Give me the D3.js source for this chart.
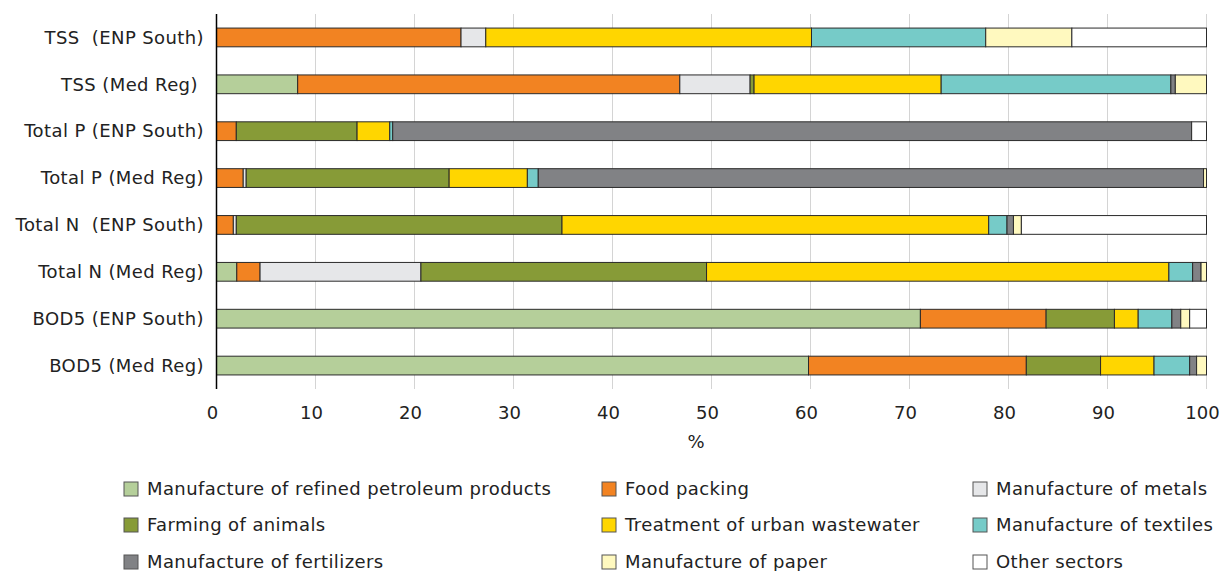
<!DOCTYPE html>
<html>
<head>
<meta charset="utf-8">
<script src="https://cdn.jsdelivr.net/npm/d3@7"></script>
<style>
  body { margin: 0; background: #fff; }
  svg { display: block; font-family: "DejaVu Sans", Verdana, sans-serif; }
</style>
</head>
<body>
<svg id="chart" width="1226" height="571"></svg>
<script>
// rows, top to bottom
const categories = [
  "TSS  (ENP South)", "TSS (Med Reg) ", "Total P (ENP South)", "Total P (Med Reg)",
  "Total N  (ENP South)", "Total N (Med Reg)", "BOD5 (ENP South)", "BOD5 (Med Reg)"
];

const sectors = [
  "Manufacture of refined petroleum products", "Food packing", "Manufacture of metals",
  "Farming of animals", "Treatment of urban wastewater", "Manufacture of textiles",
  "Manufacture of fertilizers", "Manufacture of paper", "Other sectors"
];

// % share per row
const petroleum   = [0, 8.2, 0, 0, 0, 2.05, 71.1, 59.8];
const foodPacking = [24.7, 38.6, 2.0, 2.7, 1.7, 2.35, 12.7, 22.0];
const metals      = [2.5, 7.1, 0, 0.3, 0.3, 16.25, 0, 0];
const farming     = [0, 0.4, 12.2, 20.5, 32.9, 28.85, 6.9, 7.5];
const urbanWw     = [32.9, 18.9, 3.3, 7.9, 43.1, 46.7, 2.4, 5.4];
const textiles    = [17.6, 23.2, 0.3, 1.1, 1.85, 2.4, 3.4, 3.6];
const fertilizers = [0, 0.45, 80.7, 67.2, 0.65, 0.85, 0.9, 0.7];
const paper       = [8.7, 3.15, 0, 0.3, 0.8, 0.55, 0.9, 1.0];
const other       = [13.6, 0, 1.5, 0, 18.7, 0, 1.7, 0];

const xTicks = [0, 10, 20, 30, 40, 50, 60, 70, 80, 90, 100];

const colors = ["#b5cf9a", "#f28322", "#e6e7e9", "#879b37", "#ffd600",
                "#76cbc8", "#818285", "#fff9bf", "#ffffff"];

const seriesValues = [petroleum, foodPacking, metals, farming, urbanWw,
                      textiles, fertilizers, paper, other];

const rows = categories.map((c, i) => {
  const r = { cat: c };
  sectors.forEach((s, j) => { r[s] = seriesValues[j][i]; });
  return r;
});

const svg = d3.select("#chart");
const margin = { top: 14, left: 216.5, right: 20 };
const plotW = 990, plotH = 375;
const fontSize = 18;
const spacing = "0.4px";

const x = d3.scaleLinear().domain([0, 100]).range([margin.left, margin.left + plotW]);
const y = d3.scaleBand().domain(categories).range([margin.top, margin.top + plotH]).paddingInner(0.6).paddingOuter(0.3);
const color = d3.scaleOrdinal().domain(sectors).range(colors);

// gridlines
svg.append("g")
  .selectAll("line")
  .data(xTicks.slice(1))
  .join("line")
  .attr("x1", d => x(d)).attr("x2", d => x(d))
  .attr("y1", margin.top).attr("y2", margin.top + plotH)
  .attr("stroke", "#d4d4d4").attr("stroke-width", 1);

// bars
const stacked = d3.stack().keys(sectors)(rows);

svg.append("g")
  .selectAll("g")
  .data(stacked)
  .join("g")
  .attr("fill", d => color(d.key))
  .selectAll("rect")
  .data(d => d.filter(p => p[1] - p[0] > 0))
  .join("rect")
  .attr("x", d => x(d[0]))
  .attr("y", d => y(d.data.cat))
  .attr("width", d => x(d[1]) - x(d[0]))
  .attr("height", y.bandwidth())
  .attr("stroke", "#2a2a2a")
  .attr("stroke-width", 1);

// y axis line
svg.append("line")
  .attr("x1", margin.left).attr("x2", margin.left)
  .attr("y1", margin.top).attr("y2", margin.top + plotH)
  .attr("stroke", "#000").attr("stroke-width", 1.5);

// category labels
svg.append("g")
  .selectAll("text")
  .data(categories)
  .join("text")
  .attr("x", 204)
  .attr("y", d => y(d) + y.bandwidth() / 2)
  .attr("dy", "0.35em")
  .attr("text-anchor", "end")
  .style("white-space", "pre")
  .style("letter-spacing", spacing)
  .attr("font-size", fontSize)
  .attr("fill", "#222")
  .text(d => d);

// x tick labels
svg.append("g")
  .selectAll("text")
  .data(xTicks)
  .join("text")
  .attr("x", d => x(d) - 4)
  .attr("y", 413)
  .attr("dy", "0.35em")
  .attr("text-anchor", "middle")
  .attr("font-size", fontSize)
  .attr("fill", "#222")
  .text(d => d);

svg.append("text")
  .attr("x", 696).attr("y", 442)
  .attr("dy", "0.35em")
  .attr("text-anchor", "middle")
  .attr("font-size", fontSize)
  .attr("fill", "#222")
  .text("%");

// legend, 3 columns
const legendCols = [124, 602, 973];
const legendRows = [489, 525, 562];

const leg = svg.append("g")
  .selectAll("g")
  .data(sectors)
  .join("g")
  .attr("transform", (d, i) => `translate(${legendCols[i % 3]},${legendRows[Math.floor(i / 3)]})`);

leg.append("rect")
  .attr("x", 0).attr("y", -7)
  .attr("width", 14).attr("height", 14)
  .attr("fill", d => color(d))
  .attr("stroke", "#555").attr("stroke-width", 1);

leg.append("text")
  .attr("x", 23).attr("y", 0)
  .attr("dy", "0.35em")
  .style("letter-spacing", spacing)
  .attr("font-size", fontSize)
  .attr("fill", "#222")
  .text(d => d);
</script>
</body>
</html>
